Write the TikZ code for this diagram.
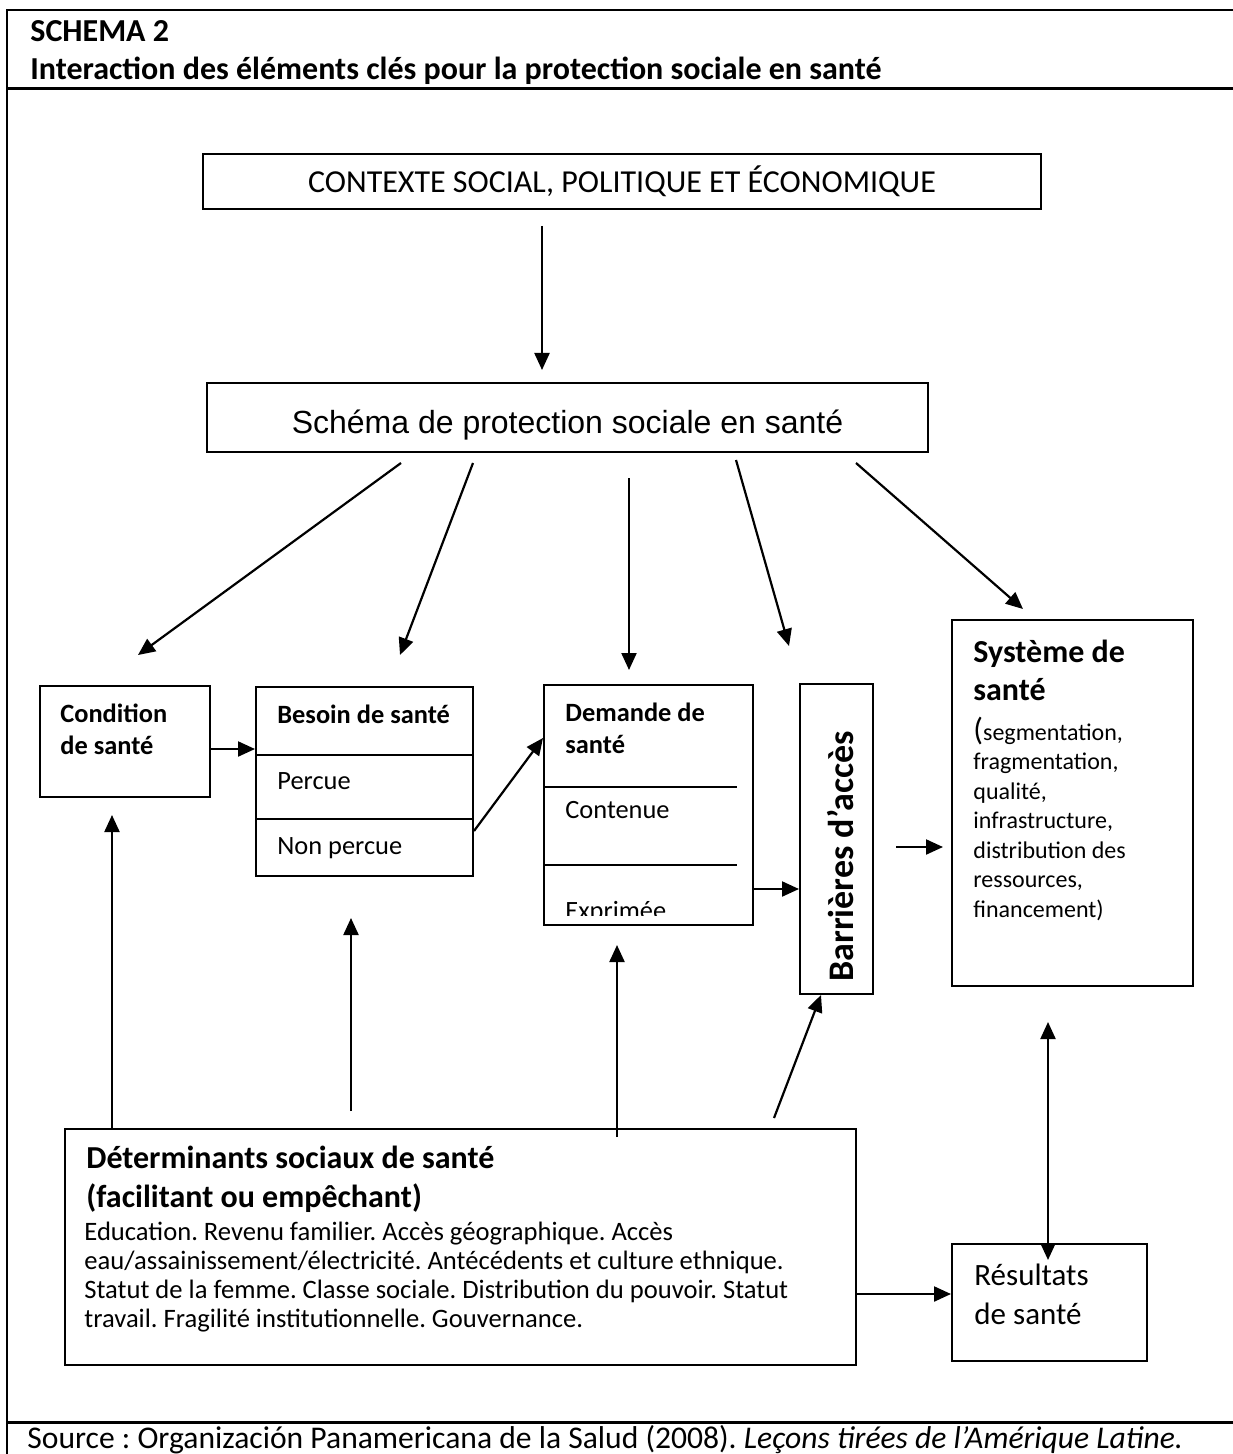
\documentclass[tikz,border=0pt]{standalone}
\usepackage{fontspec}
\setmainfont{Carlito}
\newfontfamily\arialfont{Liberation Sans}
\usetikzlibrary{arrows.meta}
\frenchspacing

\tikzset{
  box/.style={draw, line width=1pt, inner sep=0pt},
  fleche/.tip={Triangle[length=8.5pt,width=7.5pt]},
  arr/.style={-fleche, line width=1.1pt},
  txt/.style={anchor=base west, inner sep=0pt, align=left},
}
\newcommand{\bodysize}{\fontsize{13.2}{16}\selectfont}

\begin{document}
\begin{tikzpicture}[x=0.5pt,y=-0.5pt]
  \useasboundingbox (0,0) rectangle (1232,1454);
  % cadre
  \draw[line width=0.8pt] (7,1470) -- (7,10) -- (1240,10);
  \draw[line width=1.5pt] (7,89) -- (1240,89);
  \draw[line width=1.5pt] (7,1422) -- (1240,1422);
  \node[txt, font=\bfseries\fontsize{16}{18}\selectfont] (num) at (30,42) {SCHEMA 2};
  \node[txt, font=\bfseries\fontsize{16}{18}\selectfont] (titre) at (30,80)
    {Interaction des éléments clés pour la protection sociale en santé};
  \node[txt, font=\fontsize{15.8}{18}\selectfont] (source) at (27,1448)
    {Source : Organización Panamericana de la Salud (2008). \textit{Leçons tirées de l’Amérique Latine.}};

  % boites
  \node[box, minimum width=419pt, minimum height=27.5pt] (contexte) at (622,181.5) {};
  \node[box, minimum width=360.5pt, minimum height=34.5pt] (schema) at (567.5,417.5) {};
  \node[box, minimum width=85pt, minimum height=55.5pt] (cond) at (125,741.5) {};
  \node[box, minimum width=108.5pt, minimum height=94.5pt] (besoin) at (364.5,781.5) {};
  \node[box, minimum width=104.5pt, minimum height=120pt] (demande) at (648.5,805) {};
  \node[box, minimum width=36.5pt, minimum height=155pt] (barr) at (836.5,839) {};
  \node[box, minimum width=120.5pt, minimum height=183pt] (systeme) at (1072.5,803) {};
  \node[box, minimum width=395.5pt, minimum height=118pt] (det) at (460.5,1247) {};
  \node[box, minimum width=97.5pt, minimum height=58.5pt] (resultats) at (1049.5,1302.5) {};

  % separations
  \draw[line width=1pt] (besoin.west |- 0,755) -- (besoin.east |- 0,755);
  \draw[line width=1pt] (besoin.west |- 0,819) -- (besoin.east |- 0,819);
  \draw[line width=1pt] (demande.west |- 0,787) -- (737,787);
  \draw[line width=1pt] (demande.west |- 0,865) -- (737,865);

  % textes
  \node[anchor=base, inner sep=0pt, font=\fontsize{16}{18}\selectfont] (contextet) at (622,193)
    {CONTEXTE SOCIAL, POLITIQUE ET ÉCONOMIQUE};
  \node[anchor=base, inner sep=0pt, font=\arialfont\fontsize{16}{19}\selectfont] (schemat) at (567.5,434)
    {Schéma de protection sociale en santé};
  \node[txt, font=\bfseries\bodysize] (condt) at (60,754) {Condition\\de santé};
  \node[txt, font=\bfseries\bodysize] (besoint) at (277,723) {Besoin de santé};
  \node[txt, font=\bodysize] (percue) at (277,789) {Percue};
  \node[txt, font=\bodysize] (nonpercue) at (277,854) {Non percue};
  \node[txt, font=\bfseries\bodysize] (demandet) at (565,753) {Demande de\\santé};
  \node[txt, font=\bodysize] (contenue) at (565,818) {Contenue};
  \begin{scope}
    \clip (demande.west |- 0,865) rectangle (demande.east |- 0,915);
    \node[txt, font=\bodysize] (exprimee) at (565,919) {Exprimée};
  \end{scope}
  \node[txt, rotate=90, font=\bfseries\fontsize{18}{20}\selectfont] (barrt) at (853,982) {Barrières d’accès};
  \node[txt, font=\bfseries\fontsize{16}{19}\selectfont] (systemet) at (973,700) {Système de\\santé};
  \node[txt, font=\fontsize{12}{14.75}\selectfont] (systemel) at (973,917)
    {{\fontsize{16}{15}\selectfont(}segmentation,\\fragmentation,\\qualité,\\infrastructure,\\distribution des\\ressources,\\financement)};
  \node[txt, font=\bfseries\fontsize{16}{19.5}\selectfont] (dett) at (86,1207)
    {Déterminants sociaux de santé\\(facilitant ou empêchant)};
  \node[txt, font=\fontsize{13.3}{14.5}\selectfont] (detl) at (84,1327)
    {Education. Revenu familier. Accès géographique. Accès\\eau/assainissement/électricité. Antécédents et culture ethnique.\\Statut de la femme. Classe sociale. Distribution du pouvoir. Statut\\travail. Fragilité institutionnelle. Gouvernance.};
  \node[txt, font=\fontsize{15.5}{19.5}\selectfont] (resultatst) at (974,1324) {Résultats\\de santé};

  % fleches
  \coordinate (a1) at (542,226);  \coordinate (b1) at (542,370);
  \coordinate (a2) at (401,463);  \coordinate (b2) at (138,655);
  \coordinate (a3) at (473,463);  \coordinate (b3) at (400,655);
  \coordinate (a4) at (629,478);  \coordinate (b4) at (629,670);
  \coordinate (a5) at (736,460);  \coordinate (b5) at (789,646);
  \coordinate (a6) at (856,463);  \coordinate (b6) at (1023,609);
  \coordinate (a7) at (896,847);  \coordinate (b7) at (943,847);
  \coordinate (a8) at (112,815);
  \coordinate (a9) at (351,1111); \coordinate (b9) at (351,918);
  \coordinate (a10) at (617,1137); \coordinate (b10) at (617,945);
  \coordinate (a11) at (774,1118);
  \coordinate (a12) at (1048,1022); \coordinate (b12) at (1048,1260);
  \begin{scope}[arr]
    \draw (a1) to (b1);
    \draw (a2) to (b2);
    \draw (a3) to (b3);
    \draw (a4) to (b4);
    \draw (a5) to (b5);
    \draw (a6) to (b6);
    \draw (cond.east |- 0,749) to (besoin.west |- 0,749);
    \draw (besoin.east |- 0,831) to (demande.west |- 0,738);
    \draw (demande.east |- 0,889) to (barr.west |- 0,889);
    \draw (a7) to (b7);
    \draw (det.north -| a8) to (a8);
    \draw (a9) to (b9);
    \draw (a10) to (b10);
    \draw (a11) to (barr.south -| 821,0);
    \draw[fleche-fleche] (a12) to (b12);
    \draw (det.east |- 0,1294) to (resultats.west |- 0,1294);
  \end{scope}
\end{tikzpicture}
\end{document}
